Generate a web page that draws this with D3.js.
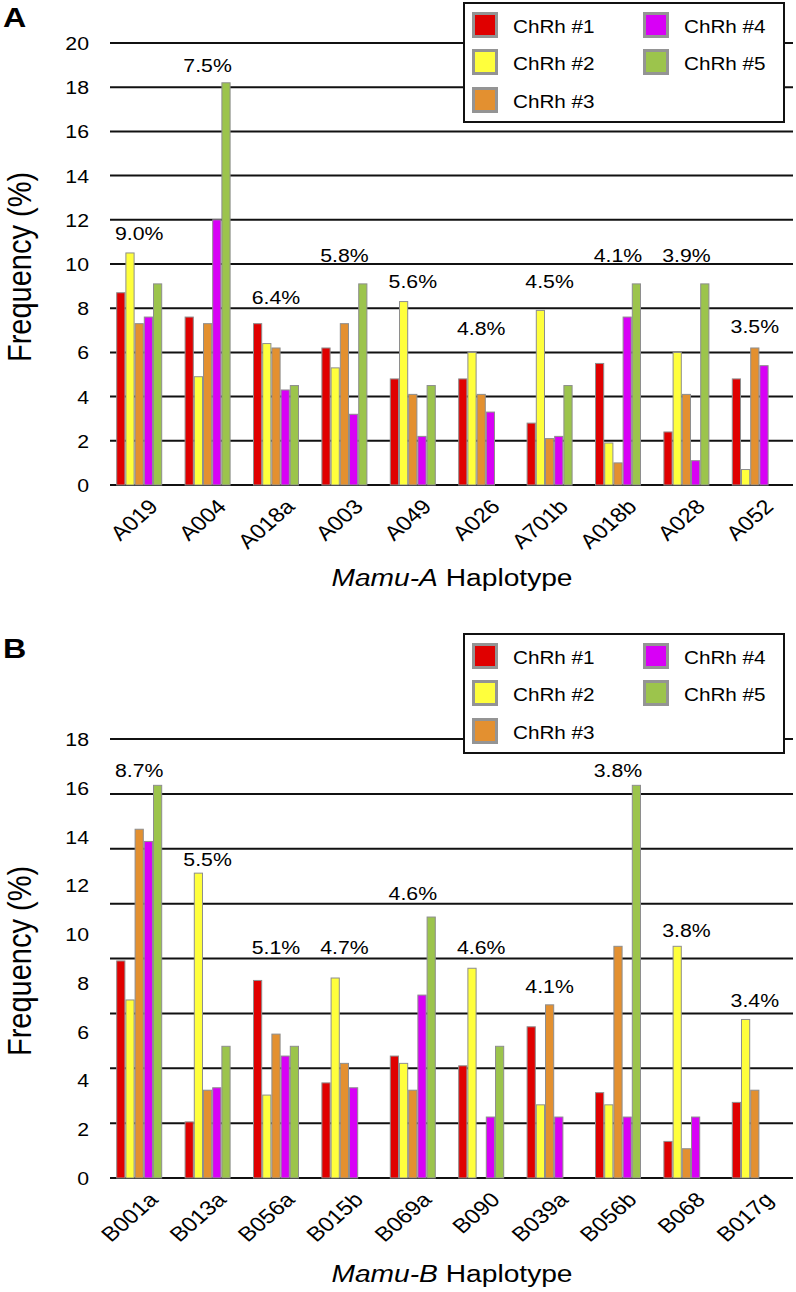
<!DOCTYPE html>
<html>
<head>
<meta charset="utf-8">
<script src="https://cdn.jsdelivr.net/npm/d3@7"></script>
<style>
  html, body { margin: 0; padding: 0; background: #fff; }
  svg { display: block; }
  text { font-family: "Liberation Sans", Arial, Helvetica, sans-serif; fill: #000; }
</style>
</head>
<body>
<svg id="chart" width="796" height="1292"></svg>
<script>
// ---------------- DATA ----------------
const seriesNames = ["ChRh #1", "ChRh #2", "ChRh #3", "ChRh #4", "ChRh #5"];

// Panel A – Mamu-A haplotypes
const haplotypesA = ["A019", "A004", "A018a", "A003", "A049", "A026", "A701b", "A018b", "A028", "A052"];
const chrh1A = [8.7, 7.6, 7.3, 6.2, 4.8, 4.8, 2.8, 5.5, 2.4, 4.8];
const chrh2A = [10.5, 4.9, 6.4, 5.3, 8.3, 6.0, 7.9, 1.9, 6.0, 0.7];
const chrh3A = [7.3, 7.3, 6.2, 7.3, 4.1, 4.1, 2.1, 1.0, 4.1, 6.2];
const chrh4A = [7.6, 12.0, 4.3, 3.2, 2.2, 3.3, 2.2, 7.6, 1.1, 5.4];
const chrh5A = [9.1, 18.2, 4.5, 9.1, 4.5, 0, 4.5, 9.1, 9.1, 0];
const overallA = ["9.0%", "7.5%", "6.4%", "5.8%", "5.6%", "4.8%", "4.5%", "4.1%", "3.9%", "3.5%"];
const overallLabelLevelA = [11.1, 18.7, 8.2, 10.1, 8.9, 6.8, 8.9, 10.1, 10.1, 6.9];
const yTicksA = [0, 2, 4, 6, 8, 10, 12, 14, 16, 18, 20];

// Panel B – Mamu-B haplotypes
const haplotypesB = ["B001a", "B013a", "B056a", "B015b", "B069a", "B090", "B039a", "B056b", "B068", "B017g"];
const chrh1B = [8.9, 2.3, 8.1, 3.9, 5.0, 4.6, 6.2, 3.5, 1.5, 3.1];
const chrh2B = [7.3, 12.5, 3.4, 8.2, 4.7, 8.6, 3.0, 3.0, 9.5, 6.5];
const chrh3B = [14.3, 3.6, 5.9, 4.7, 3.6, 0, 7.1, 9.5, 1.2, 3.6];
const chrh4B = [13.8, 3.7, 5.0, 3.7, 7.5, 2.5, 2.5, 2.5, 2.5, 0];
const chrh5B = [16.1, 5.4, 5.4, 0, 10.7, 5.4, 0, 16.1, 0, 0];
const overallB = ["8.7%", "5.5%", "5.1%", "4.7%", "4.6%", "4.6%", "4.1%", "3.8%", "3.8%", "3.4%"];
const overallLabelLevelB = [16.45, 12.8, 9.2, 9.2, 11.4, 9.2, 7.6, 16.45, 9.9, 7.0];
const yTicksB = [0, 2, 4, 6, 8, 10, 12, 14, 16, 18];
const gridDivisionsB = 8;   // panel B grid lines split the 0–18 range in 8 equal parts

// ---------------- STYLE ----------------
const colors = ["#e00000", "#ffff3c", "#e39030", "#d800f6", "#9cc44c"];
const SX = 1.15;   // horizontal stretch of the original figure's lettering

const svg = d3.select("#chart");

function stretchText(sel, x, y, extra) {
  sel.attr("transform", `translate(${x},${y}) scale(${SX},1)` + (extra || ""));
}

function drawPanel(cfg) {
  const g = svg.append("g");
  const x = d3.scaleBand().domain(cfg.categories).range([105, 789])
    .paddingInner(0.3275).paddingOuter(0.16375);
  const xs = d3.scaleBand().domain(seriesNames).range([0, x.bandwidth()]);
  const y = d3.scaleLinear().domain(cfg.yDomain).range(cfg.yRange);

  // grid lines
  g.append("g").selectAll("line").data(cfg.gridValues).join("line")
    .attr("x1", 110).attr("x2", 793)
    .attr("y1", d => y(d)).attr("y2", d => y(d))
    .attr("stroke", "#111").attr("stroke-width", 2);

  // y tick labels
  const yAxis = g.append("g").attr("transform", "translate(89,0)")
    .call(d3.axisLeft(y).tickValues(cfg.yTicks).tickSize(0).tickPadding(0));
  yAxis.select(".domain").remove();
  yAxis.selectAll("text")
    .attr("x", 0).attr("dy", "0.35em")
    .attr("font-size", 18.5).attr("fill", "#000")
    .attr("font-family", "Liberation Sans, Arial, sans-serif")
    .attr("transform", `scale(${SX},1)`);

  // bars
  const seriesData = cfg.series;
  const groups = g.append("g").selectAll("g").data(cfg.categories).join("g")
    .attr("transform", d => `translate(${x(d)},0)`);
  groups.selectAll("rect")
    .data((d, i) => seriesNames.map((s, k) => ({ s, k, v: seriesData[k][i] })).filter(o => o.v > 0))
    .join("rect")
    .attr("x", o => xs(o.s) + 0.5)
    .attr("width", xs.bandwidth() - 1)
    .attr("y", o => y(o.v))
    .attr("height", o => y(0) - y(o.v))
    .attr("fill", o => colors[o.k])
    .attr("stroke", "#8e8e8e")
    .attr("stroke-width", 1);

  // overall frequency labels
  g.append("g").selectAll("text").data(cfg.categories).join("text")
    .attr("text-anchor", "middle")
    .attr("font-size", 18.5)
    .each(function (d, i) {
      stretchText(d3.select(this), x(d) + x.bandwidth() / 2, y(cfg.labelLevels[i]));
    })
    .text((d, i) => cfg.overall[i]);

  // x tick labels
  const xAxis = g.append("g").attr("transform", `translate(0,${y(0)})`)
    .call(d3.axisBottom(x).tickSize(0).tickPadding(0));
  xAxis.select(".domain").remove();
  xAxis.selectAll("text")
    .attr("y", 0).attr("x", 0).attr("dy", null)
    .attr("text-anchor", "end")
    .attr("font-size", 20.5).attr("fill", "#000")
    .attr("font-family", "Liberation Sans, Arial, sans-serif")
    .attr("transform", `translate(20,23) scale(${SX},1) rotate(-45)`);

  // axis titles
  const yt = g.append("text").attr("text-anchor", "middle").attr("font-size", 29)
    .text("Frequency (%)");
  yt.attr("transform", `translate(31,${cfg.yTitleY}) scale(${SX},1) rotate(-90)`);

  const xt = g.append("text").attr("text-anchor", "middle").attr("font-size", 24.5);
  xt.append("tspan").attr("font-style", "italic").text(cfg.xTitleItalic);
  xt.append("tspan").text(" Haplotype");
  stretchText(xt, 452, cfg.xTitleY);

  // panel letter and legend sit at the panel's top
  const top = g.append("g").attr("transform", `translate(0,${cfg.panelTop})`);
  const pl = top.append("text").attr("font-size", 28).attr("font-weight", "bold").text(cfg.letter);
  stretchText(pl, 3, 27);

  const lg = top.append("g").attr("transform", "translate(464,3)");
  lg.append("rect").attr("x", 0).attr("y", 0).attr("width", 320).attr("height", 119)
    .attr("fill", "#fff").attr("stroke", "#111").attr("stroke-width", 2);
  const rowTop = [9, 46, 84];
  const items = lg.selectAll("g.item").data(seriesNames).join("g").attr("class", "item")
    .attr("transform", (d, i) => `translate(${i < 3 ? 8 : 179},${rowTop[i < 3 ? i : i - 3]})`);
  items.append("rect").attr("x", 1.5).attr("y", 1.5).attr("width", 23).attr("height", 23)
    .attr("fill", (d, i) => colors[i]).attr("stroke", "#949494").attr("stroke-width", 3);
  items.append("text").attr("font-size", 18)
    .each(function () { stretchText(d3.select(this), 41, 20.5); })
    .text(d => d);
}

drawPanel({
  panelTop: 0, letter: "A", categories: haplotypesA,
  series: [chrh1A, chrh2A, chrh3A, chrh4A, chrh5A],
  overall: overallA, labelLevels: overallLabelLevelA,
  yDomain: [0, 20], yRange: [485, 43], yTicks: yTicksA, gridValues: yTicksA,
  yTitleY: 267, xTitleY: 586, xTitleItalic: "Mamu-A"
});

drawPanel({
  panelTop: 631, letter: "B", categories: haplotypesB,
  series: [chrh1B, chrh2B, chrh3B, chrh4B, chrh5B],
  overall: overallB, labelLevels: overallLabelLevelB,
  yDomain: [0, 18], yRange: [1178, 739], yTicks: yTicksB,
  gridValues: d3.range(gridDivisionsB + 1).map(k => k * 18 / gridDivisionsB),
  yTitleY: 961, xTitleY: 1282, xTitleItalic: "Mamu-B"
});
</script>
</body>
</html>
